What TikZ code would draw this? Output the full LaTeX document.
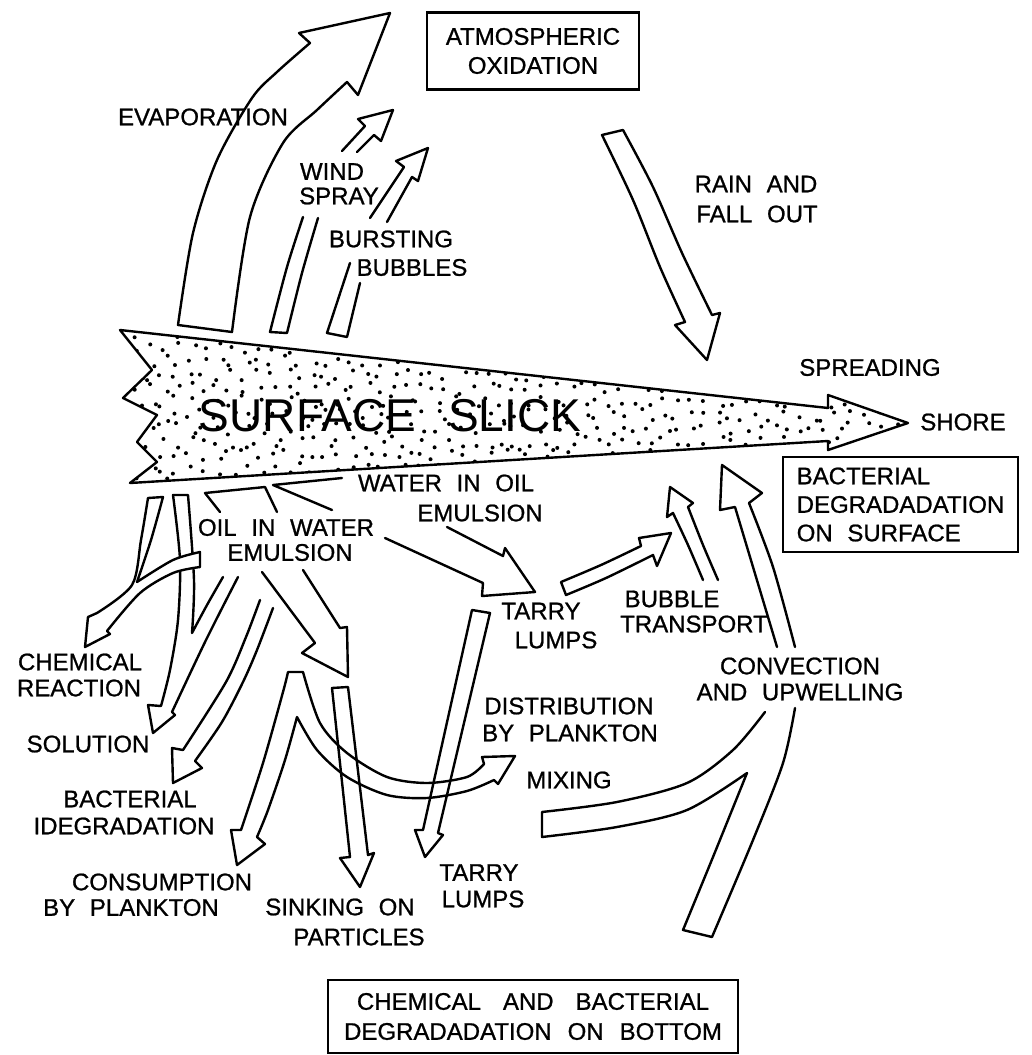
\documentclass[tikz,border=0pt]{standalone}
\usepackage{fontspec}
\setmainfont[WordSpace=2.2, FakeBold=0.9]{Liberation Sans}
\newfontfamily\slickfont[WordSpace=2.5]{Liberation Sans}
\begin{document}
\begin{tikzpicture}[x=1pt,y=-1pt,
  ar/.style={draw=black, line width=2.4pt, line join=round, line cap=round},
  lbl/.style={font=\fontsize{24}{29}\selectfont, inner sep=0pt, align=center},
  bx/.style={draw=black, line width=2.4pt, inner sep=0pt, align=center}]
\useasboundingbox (0,0) rectangle (1032,1055);

% ---------- surface slick ----------
\begin{scope}
\clip (120,330) -- (828,408) -- (828,395) -- (908,423) -- (828,450) -- (828,441) -- (130,483) -- (157,462) -- (137,442) -- (157,415) -- (123,398) -- (152,370) -- cycle;
\pgfmathsetseed{7}
\foreach \gx in {0,...,58} {\foreach \gy in {0,...,11} {
  \pgfmathsetmacro\px{118+\gx*13.5+rnd*12}
  \pgfmathsetmacro\py{328+\gy*13.5+rnd*12}
  \fill (\px,\py) circle (2pt);
}}
\end{scope}
\draw[ar] (120,330) -- (828,408) -- (828,395) -- (908,423) -- (828,450) -- (828,441) -- (130,483) -- (157,462) -- (137,442) -- (157,415) -- (123,398) -- (152,370) -- cycle;
\node[inner sep=0pt, font=\slickfont\fontsize{46}{50}\selectfont] (slick) at (390,416) {SURFACE SLICK};

% ---------- upward arrows ----------
% evaporation
\draw[ar] (178,325) -- (232,332) -- plot[smooth] coordinates {(232,332) (250,217) (283,143) (317,110) (347,82)} -- (358,95) -- (390,13) -- (299,33) -- (310,43) -- plot[smooth] coordinates {(310,43) (277,72) (252,98) (217,160) (193,233) (178,325)} -- cycle;
% wind spray
\draw[ar] (303,217) -- plot[smooth] coordinates {(303,217) (287,267) (270,332)} -- (287,333) -- plot[smooth] coordinates {(287,333) (302,273) (318,218)};
\draw[ar] (342,151) -- (365,126) -- (358,119) -- (393,110) -- (381,141) -- (374,135) -- (357,152);
% bursting bubbles
\draw[ar] (350,263) -- (327,333) -- (347,337) -- (360,283);
\draw[ar] (370,218) -- (404,167) -- (396,161) -- (428,148) -- (418,181) -- (412,177) -- (387,222);
% rain and fall out
\draw[ar] plot[smooth] coordinates {(685,322) (660,267) (633,200) (602,135)} -- (623,130) -- plot[smooth] coordinates {(623,130) (653,187) (682,253) (712,315)} -- (720,313) -- (707,360) -- (675,325) -- cycle;

% ---------- slick to emulsions ----------
\draw[ar] (220,512) -- (205,493) -- (265,487) -- (277,512);
\draw[ar] (342,478) -- (273,485) -- (332,510);

% ---------- solution (from slick and emulsion) ----------
\draw[ar] (223,577) -- plot[smooth] coordinates {(223,577) (207,605) (192,633)} -- plot[smooth] coordinates {(192,633) (194,580) (188,495)} -- (173,495) -- plot[smooth] coordinates {(173,495) (180,560) (178,620) (170,670) (161,706)} -- (148,705) -- (153,733) -- (175,715) -- (172,712) -- plot[smooth] coordinates {(172,712) (206,640) (238,577)};
% chemical reaction (crosses over solution)
\filldraw[ar, fill=white] (148,498) -- plot[smooth] coordinates {(148,498) (141,540) (132,585) (97,613)} -- (88,617) -- (85,647) -- (110,634) -- (107,631) -- plot[smooth] coordinates {(107,631) (140,593) (173,573) (200,567)} -- (200,552) -- plot[smooth] coordinates {(200,552) (173,560) (137,582)} -- plot[smooth] coordinates {(137,582) (151,540) (163,497)} -- cycle;
% bacterial degradation
\draw[ar] (260,600) -- plot[smooth] coordinates {(260,600) (246,637) (226,682) (183,750)} -- (172,748) -- (173,783) -- (202,768) -- (195,761) -- plot[smooth] coordinates {(195,761) (222,722) (243,682) (257,650) (273,608)};
% emulsion to sinking
\draw[ar] (262,572) -- (315,643) -- (302,653) -- (348,677) -- (347,627) -- (340,628) -- (303,570);
% water in oil emulsion to tarry lumps
\draw[ar] (385,538) -- (483,583) -- (482,596) -- (535,592) -- (505,548) -- (503,556) -- (447,527);

% ---------- consumption and mixing ----------
\draw[ar] (288,672) -- (303,672) -- plot[smooth] coordinates {(303,672) (320,723) (347,753) (387,777) (427,783) (467,777) (484,764)} -- (482,757) -- (515,756) -- (498,784) -- (494,780) -- plot[smooth] coordinates {(494,780) (467,791) (427,798) (387,795) (347,777) (317,750) (297,717)} -- plot[smooth] coordinates {(297,717) (285,760) (268,810) (257,837)} -- (265,844) -- (237,865) -- (231,830) -- (241,830) -- plot[smooth] coordinates {(241,830) (263,763) (283,692) (288,672)};
% sinking on particles
\draw[ar] (350,857) -- (332,688) -- (348,687) -- (368,855) -- (374,853) -- (360,887) -- (340,858) -- cycle;
% tarry lumps down
\draw[ar] (423,830) -- (472,610) -- (490,613) -- (438,833) -- (443,835) -- (425,857) -- (415,830) -- cycle;
% tarry lumps to bubble transport
\draw[ar] (561,582) -- (566,595) -- plot[smooth] coordinates {(566,595) (606,578) (653,555)} -- (657,566) -- (671,533) -- (639,538) -- (641,546) -- plot[smooth] coordinates {(641,546) (601,565) (561,582)} -- cycle;
% bubble transport
\draw[ar] (703,580) -- plot[smooth] coordinates {(703,580) (688,545) (673,513)} -- (667,517) -- (670,487) -- (693,503) -- (688,507) -- plot[smooth] coordinates {(688,507) (703,545) (718,580)};
% convection (upper)
\draw[ar] (777,647) -- plot[smooth] coordinates {(777,647) (753,567) (735,507)} -- (720,510) -- (722,465) -- (762,493) -- (749,503) -- plot[smooth] coordinates {(749,503) (773,567) (795,647)};
% convection (lower, mixing and upwelling)
\draw[ar] plot[smooth] coordinates {(765,712) (733,750) (687,783) (617,802) (542,812)} -- (542,837) -- plot[smooth] coordinates {(542,837) (617,827) (687,810) (747,773)} -- plot[smooth] coordinates {(747,773) (713,857) (683,930)} -- (712,937) -- plot[smooth] coordinates {(712,937) (753,840) (783,763) (795,708)};

% ---------- boxes ----------
\node[bx, minimum width=212pt, minimum height=77pt, font=\fontsize{24}{29}\selectfont] (atm) at (533,51) {ATMOSPHERIC\\OXIDATION};
\node[bx, minimum width=235pt, minimum height=95pt, font=\fontsize{24}{28.5}\selectfont, align=left] (bsurf) at (900.5,504.5) {BACTERIAL\\DEGRADADATION\\ON SURFACE};
\node[bx, minimum width=410pt, minimum height=73pt, font=\fontsize{24}{30}\selectfont] (bbot) at (533,1016.5) {CHEMICAL\hspace{22pt}AND\hspace{22pt}BACTERIAL\\DEGRADADATION\hspace{16pt}ON\hspace{16pt}BOTTOM};

% ---------- labels ----------
\node[lbl] (evap) at (203,117) {EVAPORATION};
\node[lbl] (wind1) at (332,171.5) {WIND};
\node[lbl] (wind2) at (339,196) {SPRAY};
\node[lbl] (burst1) at (391,239) {BURSTING};
\node[lbl] (burst2) at (412,267.5) {BUBBLES};
\node[lbl] (rain1) at (756,184) {RAIN AND};
\node[lbl] (rain2) at (757,214) {FALL OUT};
\node[lbl] (spread) at (870,367.5) {SPREADING};
\node[lbl] (shore) at (963,422) {SHORE};
\node[lbl] (wio1) at (446,483) {WATER IN OIL};
\node[lbl] (wio2) at (480,513) {EMULSION};
\node[lbl] (oiw1) at (286,527.5) {OIL IN WATER};
\node[lbl] (oiw2) at (290,552.5) {EMULSION};
\node[lbl] (tar1a) at (541,611) {TARRY};
\node[lbl] (tar1b) at (556,640) {LUMPS};
\node[lbl] (bub1) at (672,599) {BUBBLE};
\node[lbl] (bub2) at (694,624) {TRANSPORT};
\node[lbl] (conv1) at (800,666) {CONVECTION};
\node[lbl] (conv2) at (800,692) {AND UPWELLING};
\node[lbl] (dist1) at (569,706) {DISTRIBUTION};
\node[lbl] (dist2) at (570,733) {BY PLANKTON};
\node[lbl] (mix) at (569,780) {MIXING};
\node[lbl] (chem1) at (80,662) {CHEMICAL};
\node[lbl] (chem2) at (79,688) {REACTION};
\node[lbl] (sol) at (88,744) {SOLUTION};
\node[lbl] (bact1) at (130,799) {BACTERIAL};
\node[lbl] (bact2) at (124,826) {IDEGRADATION};
\node[lbl] (cons1) at (162,882) {CONSUMPTION};
\node[lbl] (cons2) at (131,907.5) {BY PLANKTON};
\node[lbl] (sink1) at (340,907) {SINKING ON};
\node[lbl] (sink2) at (359,937) {PARTICLES};
\node[lbl] (tar2a) at (479,872.5) {TARRY};
\node[lbl] (tar2b) at (483,899) {LUMPS};
\end{tikzpicture}
\end{document}
